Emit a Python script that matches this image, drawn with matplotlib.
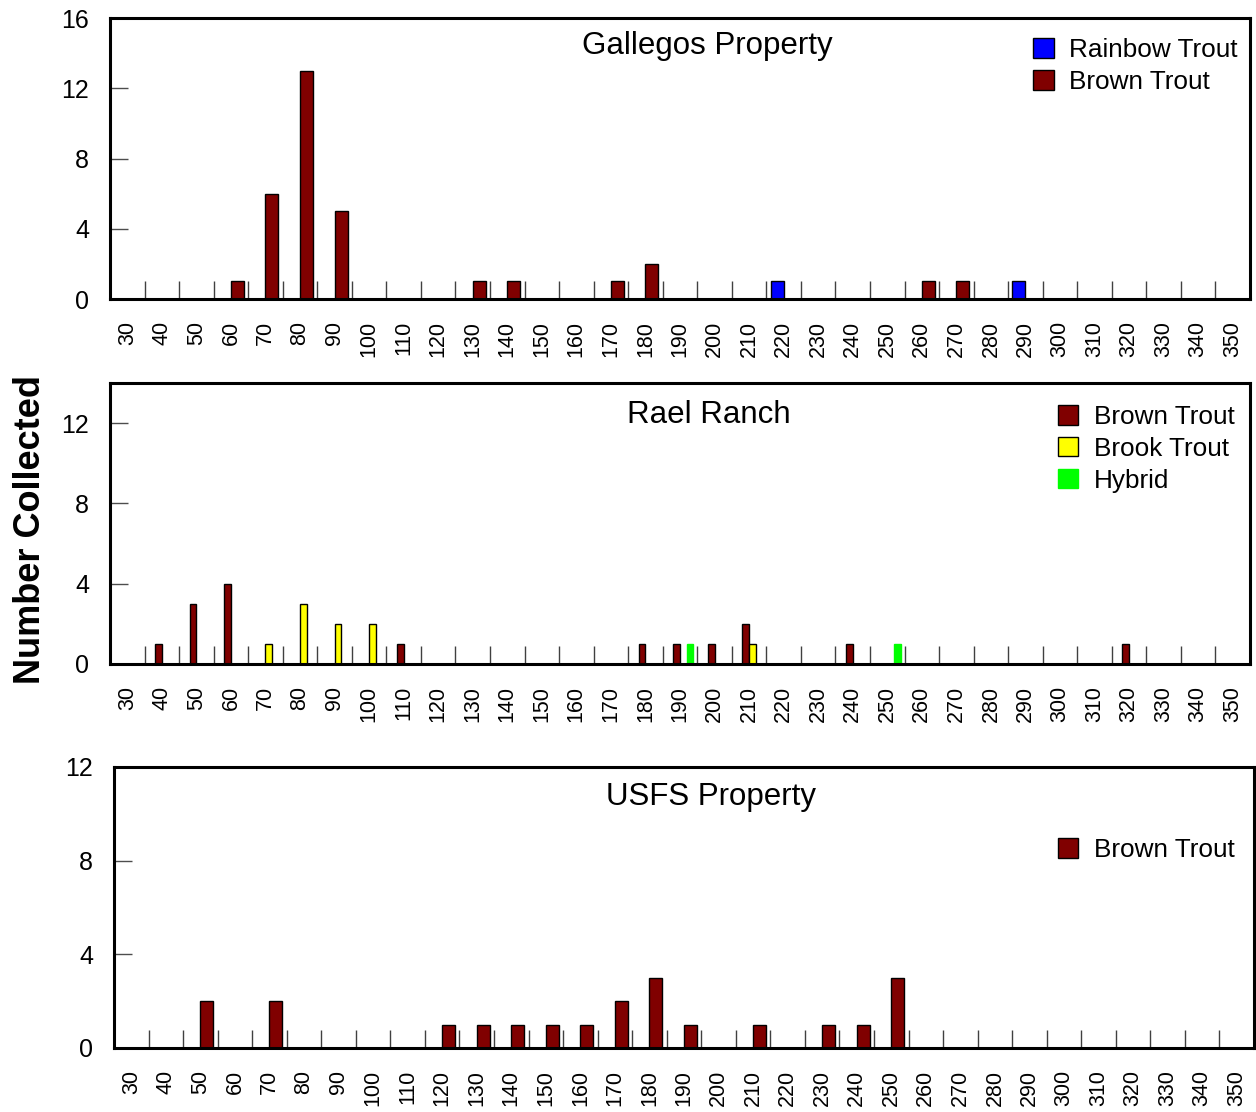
import matplotlib.pyplot as plt
import numpy as np

plt.rcParams['font.family'] = ['Liberation Sans', 'DejaVu Sans']

# size classes (mm)
sizes = list(range(30, 351, 10))

# Gallegos Property
gal_rainbow = [0, 0, 0, 0, 0, 0, 0, 0, 0, 0, 0, 0, 0, 0, 0, 0, 0, 0, 0, 1, 0, 0, 0, 0, 0, 0, 1, 0, 0, 0, 0, 0, 0]
gal_brown = [0, 0, 0, 1, 6, 13, 5, 0, 0, 0, 1, 1, 0, 0, 1, 2, 0, 0, 0, 0, 0, 0, 0, 1, 1, 0, 0, 0, 0, 0, 0, 0, 0]

# Rael Ranch
rael_brown = [0, 1, 3, 4, 0, 0, 0, 0, 1, 0, 0, 0, 0, 0, 0, 1, 1, 1, 2, 0, 0, 1, 0, 0, 0, 0, 0, 0, 0, 1, 0, 0, 0]
rael_brook = [0, 0, 0, 0, 1, 3, 2, 2, 0, 0, 0, 0, 0, 0, 0, 0, 0, 0, 1, 0, 0, 0, 0, 0, 0, 0, 0, 0, 0, 0, 0, 0, 0]
rael_hybrid = [0, 0, 0, 0, 0, 0, 0, 0, 0, 0, 0, 0, 0, 0, 0, 0, 1, 0, 0, 0, 0, 0, 1, 0, 0, 0, 0, 0, 0, 0, 0, 0, 0]

# USFS Property
usfs_brown = [0, 0, 2, 0, 2, 0, 0, 0, 0, 1, 1, 1, 1, 1, 2, 3, 1, 0, 1, 0, 1, 1, 3, 0, 0, 0, 0, 0, 0, 0, 0, 0, 0]

brown = '#800000'
x = np.arange(len(sizes))

fig = plt.figure(figsize=(12.56, 11.12), dpi=100)
ax1 = fig.add_axes([0.0876, 0.7311, 0.9076, 0.2527])
ax2 = fig.add_axes([0.0876, 0.4029, 0.9076, 0.2527])
ax3 = fig.add_axes([0.0908, 0.0576, 0.9076, 0.2527])

leg_kw = dict(loc='upper left', frameon=False, fontsize=18.8, handlelength=0.78, handleheight=0.78,
              handletextpad=0.6, labelspacing=0.3, borderpad=0, borderaxespad=0)


def style(ax, ymax, yt):
    ax.set_xlim(-0.5, len(sizes) - 0.5)
    ax.set_ylim(0, ymax)
    ax.set_xticks(x)
    ax.set_xticklabels([str(s) for s in sizes], rotation=90, fontsize=15.5)
    ax.set_xticks(x[:-1] + 0.5, minor=True)
    ax.tick_params(axis='x', which='major', length=0, pad=16)
    ax.tick_params(axis='x', which='minor', direction='in', length=13, width=1, color='0.25')
    ax.set_yticks(yt)
    ax.tick_params(axis='y', direction='in', length=13, width=1, color='0.3', labelsize=18, pad=15)
    for s in ax.spines.values():
        s.set_linewidth(2.2)


# Gallegos
w = 0.376
ax1.bar(x - w / 2, gal_rainbow, w, color='#0000ff', edgecolor='black', linewidth=1, label='Rainbow Trout')
ax1.bar(x + w / 2, gal_brown, w, color=brown, edgecolor='black', linewidth=1, label='Brown Trout')
style(ax1, 16, [0, 4, 8, 12, 16])
ax1.text(0.524, 0.9, 'Gallegos Property', transform=ax1.transAxes, ha='center', va='center', fontsize=22.5)
ax1.legend(bbox_to_anchor=(0.81, 0.928), **leg_kw)

# Rael Ranch
w2 = 0.195
ax2.bar(x - w2 / 2, rael_brown, w2, color=brown, edgecolor='black', linewidth=1, label='Brown Trout')
ax2.bar(x + w2 / 2, rael_brook, w2, color='#ffff00', edgecolor='black', linewidth=1, label='Brook Trout')
ax2.bar(x + 1.5 * w2, rael_hybrid, w2, color='#00ff00', edgecolor='#00ff00', linewidth=1, label='Hybrid')
style(ax2, 14, [0, 4, 8, 12])
ax2.text(0.525, 0.886, 'Rael Ranch', transform=ax2.transAxes, ha='center', va='center', fontsize=22.5)
ax2.legend(bbox_to_anchor=(0.8316, 0.922), **leg_kw)

# USFS
ax3.bar(x + w / 2, usfs_brown, w, color=brown, edgecolor='black', linewidth=1, label='Brown Trout')
style(ax3, 12, [0, 4, 8, 12])
ax3.text(0.524, 0.893, 'USFS Property', transform=ax3.transAxes, ha='center', va='center', fontsize=22.5)
ax3.legend(bbox_to_anchor=(0.828, 0.747), **leg_kw)

fig.text(0.024, 0.5234, 'Number Collected', rotation=90, ha='center', va='center',
         fontsize=26, fontweight='bold')

fig.savefig('out.png', dpi=100)
